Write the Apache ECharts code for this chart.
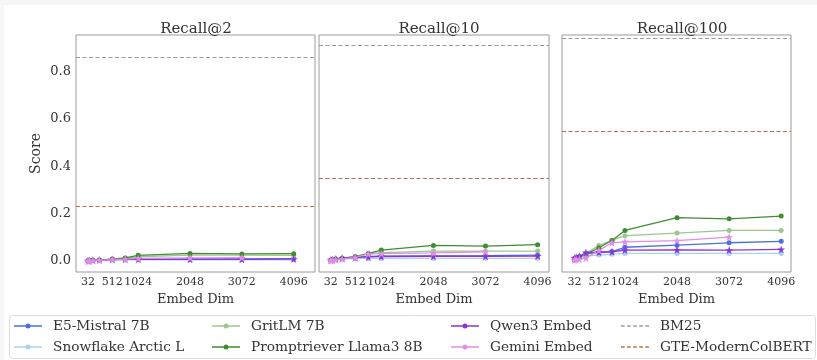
<!DOCTYPE html>
<html>
<head>
<meta charset="utf-8">
<script src="https://cdn.jsdelivr.net/npm/echarts@6/dist/echarts.min.js"></script>
<style>
  html, body { margin: 0; padding: 0; background: #fff; }
  #chart { width: 817px; height: 360px; }
</style>
</head>
<body>
<div id="chart"></div>
<script>
// embedding dimensions on the x axis
const dims = [32, 64, 128, 256, 512, 768, 1024, 2048, 3072, 4096];
const panelTitles = ['Recall@2', 'Recall@10', 'Recall@100'];
const xTicks = [32, 512, 1024, 2048, 3072, 4096];
const yTicks = [0, 0.2, 0.4, 0.6, 0.8];

// one row per panel (Recall@2, @10, @100)
const e5Mistral = [
  [0.001, 0.002, 0.003, 0.004, 0.006, 0.008, 0.008, 0.009, 0.009, 0.010],
  [0.003, 0.005, 0.008, 0.012, 0.016, 0.019, 0.021, 0.022, 0.023, 0.025],
  [0.008, 0.012, 0.018, 0.030, 0.036, 0.040, 0.058, 0.067, 0.077, 0.083]
];
const snowflake = [
  [0.001, 0.001, 0.002, 0.003, 0.004, 0.005, 0.005, 0.005, 0.005, 0.005],
  [0.002, 0.004, 0.006, 0.008, 0.010, 0.011, 0.011, 0.011, 0.011, 0.011],
  [0.006, 0.010, 0.015, 0.022, 0.025, 0.028, 0.032, 0.032, 0.032, 0.032]
];
const gritlm = [
  [0.001, 0.002, 0.003, 0.004, 0.007, 0.012, 0.018, 0.025, 0.025, 0.024],
  [0.003, 0.005, 0.008, 0.012, 0.018, 0.030, 0.035, 0.042, 0.042, 0.042],
  [0.008, 0.012, 0.018, 0.032, 0.065, 0.087, 0.107, 0.118, 0.129, 0.129]
];
const promptriever = [
  [0.001, 0.002, 0.003, 0.004, 0.008, 0.013, 0.024, 0.032, 0.030, 0.031],
  [0.003, 0.005, 0.008, 0.012, 0.018, 0.032, 0.046, 0.066, 0.063, 0.069],
  [0.008, 0.012, 0.018, 0.028, 0.056, 0.087, 0.129, 0.183, 0.178, 0.190]
];
const qwen3 = [
  [0.001, 0.002, 0.003, 0.004, 0.006, 0.007, 0.007, 0.007, 0.007, 0.008],
  [0.004, 0.006, 0.008, 0.012, 0.014, 0.017, 0.019, 0.020, 0.020, 0.021],
  [0.012, 0.016, 0.020, 0.036, 0.037, 0.039, 0.046, 0.047, 0.046, 0.049]
];
// gemini stops at 3072
const gemini = [
  [0.000, 0.001, 0.002, 0.003, 0.006, 0.008, 0.011, 0.013, 0.014],
  [0.002, 0.003, 0.005, 0.008, 0.015, 0.030, 0.031, 0.034, 0.039],
  [0.004, 0.006, 0.008, 0.012, 0.045, 0.077, 0.081, 0.086, 0.101]
];
const bm25 = [0.862, 0.910, 0.941];
const gteColbert = [0.2325, 0.3466, 0.551];

const STAR = 'path://M12,0L14.9,8.3L23.4,8.3L16.5,13.5L19.1,21.8L12,16.8L4.9,21.8L7.5,13.5L0.6,8.3L9.1,8.3Z';
const DOT_ICON = 'path://M0,1.8H28V3.2H0Z M11.5,2.5A2.5,2.5 0 1 1 16.5,2.5A2.5,2.5 0 1 1 11.5,2.5Z';
const DASH_ICON = 'path://M0,0H3.7V1.4H0Z M6.1,0H9.8V1.4H6.1Z M12.2,0H15.9V1.4H12.2Z M18.3,0H22V1.4H18.3Z M24.4,0H28.1V1.4H24.4Z';

const FONT = 'DejaVu Serif';
const TXT = '#333';

const models = [
  {name: 'E5-Mistral 7B', vals: e5Mistral, color: '#4d6fdc', star: false},
  {name: 'Snowflake Arctic L', vals: snowflake, color: '#a9d2ef', star: false},
  {name: 'GritLM 7B', vals: gritlm, color: '#9cc78f', star: false},
  {name: 'Promptriever Llama3 8B', vals: promptriever, color: '#408c33', star: false},
  {name: 'Qwen3 Embed', vals: qwen3, color: '#8b35d9', star: true},
  {name: 'Gemini Embed', vals: gemini, color: '#e28de6', star: true}
];

const panels = [
  {left: 76, width: 239, min: -205, max: 4517, title: 191},
  {left: 319, width: 230, min: -200, max: 4320, title: 434},
  {left: 562, width: 229, min: -214, max: 4289, title: 677}
];

const chart = echarts.init(document.getElementById('chart'));

const grid = [], xAxis = [], yAxis = [], title = [], series = [];

panels.forEach((p, i) => {
  grid.push({
    left: p.left, top: 35, width: p.width, height: 237,
    show: true, borderColor: '#9a9a9a', borderWidth: 1, backgroundColor: '#fff'
  });
  title.push({
    text: panelTitles[i], left: p.title, top: 17, textAlign: 'center',
    textStyle: {fontFamily: FONT, fontSize: 15, fontWeight: 'normal', color: TXT}
  });
  xAxis.push({
    type: 'value', gridIndex: i, min: p.min, max: p.max,
    name: 'Embed Dim', nameLocation: 'middle', nameGap: 19,
    nameTextStyle: {fontFamily: FONT, fontSize: 13, color: TXT},
    axisLine: {show: false}, axisTick: {show: false}, splitLine: {show: false},
    axisLabel: {
      customValues: xTicks, margin: 5, fontFamily: FONT, fontSize: 11, color: TXT,
      formatter: v => String(v)
    }
  });
  yAxis.push({
    type: 'value', gridIndex: i, min: -0.0465, max: 0.955,
    name: i === 0 ? 'Score' : '', nameLocation: 'middle', nameGap: 33,
    nameTextStyle: {fontFamily: FONT, fontSize: 14, color: TXT},
    axisLine: {show: false}, axisTick: {show: false}, splitLine: {show: false},
    axisLabel: {
      show: i === 0, customValues: yTicks, margin: 5,
      fontFamily: FONT, fontSize: 13, color: TXT,
      formatter: v => v.toFixed(1)
    }
  });

  models.forEach(m => {
    series.push({
      type: 'line', name: m.name, xAxisIndex: i, yAxisIndex: i,
      color: m.color,
      symbol: 'circle', symbolSize: 5,
      lineStyle: {width: 1.3},
      itemStyle: {borderWidth: 0},
      data: m.vals[i].map((v, j) => m.star
        ? {value: [dims[j], v], symbol: STAR, symbolSize: 8}
        : [dims[j], v]),
      animation: false
    });
  });

  [['BM25', bm25, '#9a9a9a'], ['GTE-ModernColBERT', gteColbert, '#b3714e']].forEach(([name, vals, color]) => {
    series.push({
      type: 'line', name: name, xAxisIndex: i, yAxisIndex: i,
      color: color, symbol: 'none', data: [],
      markLine: {
        silent: true, symbol: 'none', label: {show: false},
        lineStyle: {type: [4, 2.5], width: 1.1, color: color},
        data: [{yAxis: vals[i]}]
      },
      animation: false
    });
  });
});

const legendBase = {
  orient: 'vertical', top: 318, padding: 0, itemWidth: 28, itemHeight: 5, itemGap: 5,
  itemStyle: {borderWidth: 0},
  textStyle: {fontFamily: FONT, fontSize: 13.7, color: TXT, lineHeight: 16, padding: [0, 0, 0, 6]}
};
const legend = [
  Object.assign({}, legendBase, {left: 14, data: [
    {name: 'E5-Mistral 7B', icon: DOT_ICON}, {name: 'Snowflake Arctic L', icon: DOT_ICON}]}),
  Object.assign({}, legendBase, {left: 212, data: [
    {name: 'GritLM 7B', icon: DOT_ICON}, {name: 'Promptriever Llama3 8B', icon: DOT_ICON}]}),
  Object.assign({}, legendBase, {left: 451, data: [
    {name: 'Qwen3 Embed', icon: DOT_ICON}, {name: 'Gemini Embed', icon: DOT_ICON}]}),
  Object.assign({}, legendBase, {left: 621, itemHeight: 1.4, data: [
    {name: 'BM25', icon: DASH_ICON}, {name: 'GTE-ModernColBERT', icon: DASH_ICON}]})
];

chart.setOption({
  backgroundColor: '#fff',
  animation: false,
  graphic: [
    {type: 'rect', z: -10, shape: {x: 0, y: 0, width: 817, height: 5}, style: {fill: '#f6f6f6'}},
    {type: 'rect', z: -10, shape: {x: 0, y: 0, width: 4, height: 360}, style: {fill: '#f6f6f6'}},
    {type: 'rect', z: -5, shape: {x: 9.5, y: 315.5, width: 806, height: 43, r: 3},
     style: {fill: '#fff', stroke: '#dcdcdc', lineWidth: 1}}
  ],
  title: title,
  grid: grid,
  xAxis: xAxis,
  yAxis: yAxis,
  legend: legend,
  series: series
});
</script>
</body>
</html>
